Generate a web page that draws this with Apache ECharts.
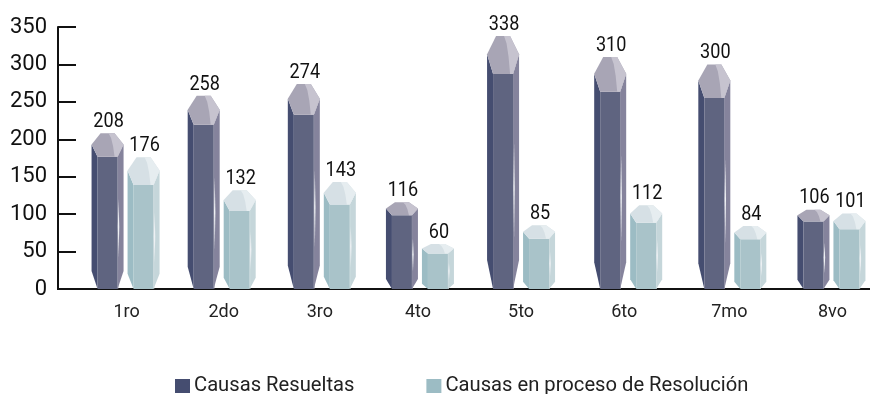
<!DOCTYPE html>
<html>
<head>
<meta charset="utf-8">
<style>html,body{margin:0;padding:0;background:#fff}#chart{width:877px;height:394px}</style>
<script src="https://cdn.jsdelivr.net/npm/echarts@6/dist/echarts.min.js"></script>
</head>
<body>
<div id="chart"></div>
<script>
const categories = ['1ro', '2do', '3ro', '4to', '5to', '6to', '7mo', '8vo'];
const resueltas = [208, 258, 274, 116, 338, 310, 300, 106];
const enProceso = [176, 132, 143, 60, 85, 112, 84, 101];
const yTicks = { min: 0, max: 350, interval: 50 };

// Horizontal fine-tuning of each group and its label, in pixels.
const groupShift = [7, 2, 1, -2, -2, 4, 7, 5];
const labelShift = [8, 4, -1, -4, -2, 0, 4, 6];

const palettes = {
  dark: { left: '#454d70', front: '#5f6480', right: '#85839c', cap: '#a8a5b5', glint: '#c6c3cf', edge: '#8a8aa0', widest: 0.072, shoulder: 0.15 },
  light: { left: '#9cbcc4', front: '#a9c3c9', right: '#c5d6da', cap: '#d6e0e5', glint: '#e6edf0', edge: '#cfdde0', widest: 0.1, shoulder: 0.21 }
};

const BODY = 16, FACE = 10, FLAT = 7, SIDE = 18;

// A faceted crystal column whose cap and foot scale with its height.
function crystal(palette, side) {
  return function (params, api) {
    const i = api.value(0), v = api.value(1);
    const top = api.coord([i, v]);
    const base = api.coord([i, 0]);
    const cx = top[0] + groupShift[i] + side * SIDE;
    const y0 = top[1], h = base[1] - top[1];
    const t = y0 + h * palette.widest, f = y0 + h * palette.shoulder, b = y0 + h * 0.885, y1 = base[1];
    const poly = (pts, fill) => ({
      type: 'polygon',
      shape: { points: pts.map(p => [cx + p[0], p[1]]) },
      style: { fill: fill }
    });
    return {
      type: 'group',
      children: [
        poly([[-BODY, t], [-FACE, f], [-FACE, y1], [-BODY, b]], palette.left),
        poly([[BODY, t], [FACE, f], [FACE, y1], [BODY, b]], palette.right),
        poly([[-FACE, f], [FACE, f], [FACE, y1], [-FACE, y1]], palette.front),
        poly([[FACE, f], [FACE + 0.7, f], [FACE + 0.7, y1], [FACE, y1]], palette.edge),
        poly([[FACE + 1, y0 + h * 0.42], [FACE + 1.7, y0 + h * 0.6], [FACE + 1, y0 + h * 0.8], [FACE + 0.3, y0 + h * 0.6]], '#eef1f4'),
        poly([[-FLAT, y0], [FLAT, y0], [BODY, t], [FACE, f], [-FACE, f], [-BODY, t]], palette.cap),
        poly([[1, y0], [FLAT, y0], [BODY, t], [FACE, f], [7, f], [5.5, y0 + (f - y0) * 0.55], [3.5, y0 + (f - y0) * 0.2]], palette.glint),
        {
          type: 'text',
          x: cx + 1, y: y0 - 1,
          scaleX: 0.86,
          style: {
            text: String(v),
            align: 'center', verticalAlign: 'bottom',
            fill: '#111',
            font: '21px "Roboto", sans-serif'
          }
        }
      ]
    };
  };
}

// Category entries carry padding so that each centred label lands on its group.
const axisCategories = categories.map((name, i) => {
  const d = Math.abs(labelShift[i]) * 2;
  return {
    value: name,
    textStyle: { padding: labelShift[i] >= 0 ? [0, 0, 0, d] : [0, d, 0, 0] }
  };
});

const chart = echarts.init(document.getElementById('chart'), null, { renderer: 'canvas' });
chart.setOption({
  animation: false,
  backgroundColor: '#fff',
  grid: { left: 68, top: 27, width: 813, height: 262, containLabel: false },
  legend: {
    left: 175, top: 376, padding: 0,
    itemWidth: 15, itemHeight: 14, itemGap: 72,
    icon: 'rect',
    textStyle: { fontFamily: 'Roboto', fontSize: 20.2, color: '#222', padding: [0, 0, 0, -1] },
    data: [
      { name: 'Causas Resueltas', itemStyle: { color: palettes.dark.left } },
      { name: 'Causas en proceso de Resolución', itemStyle: { color: palettes.light.left } }
    ]
  },
  xAxis: {
    type: 'category',
    data: axisCategories,
    axisLine: { show: false },
    axisTick: { show: false },
    axisLabel: { color: '#222', fontFamily: 'Roboto', fontSize: 18, margin: 14 }
  },
  yAxis: {
    type: 'value',
    min: yTicks.min, max: yTicks.max, interval: yTicks.interval,
    offset: 10,
    splitLine: { show: false },
    axisLine: { show: true, lineStyle: { color: '#111', width: 2 } },
    axisTick: { show: true, inside: true, length: 18, lineStyle: { color: '#111', width: 2 } },
    axisLabel: { color: '#111', fontFamily: 'Roboto', fontSize: 22, margin: 11, padding: [3, 0, 0, 0] }
  },
  series: [
    {
      name: 'Causas Resueltas', type: 'custom',
      itemStyle: { color: palettes.dark.left },
      renderItem: crystal(palettes.dark, -1),
      encode: { x: 0, y: 1 },
      data: resueltas.map((v, i) => [i, v])
    },
    {
      name: 'Causas en proceso de Resolución', type: 'custom',
      itemStyle: { color: palettes.light.left },
      renderItem: crystal(palettes.light, 1),
      encode: { x: 0, y: 1 },
      data: enProceso.map((v, i) => [i, v])
    }
  ],
  graphic: [{
    type: 'line',
    z: 1,
    shape: { x1: 57, y1: 289, x2: 870, y2: 289 },
    style: { stroke: '#111', lineWidth: 2 }
  }]
});
</script>
</body>
</html>
